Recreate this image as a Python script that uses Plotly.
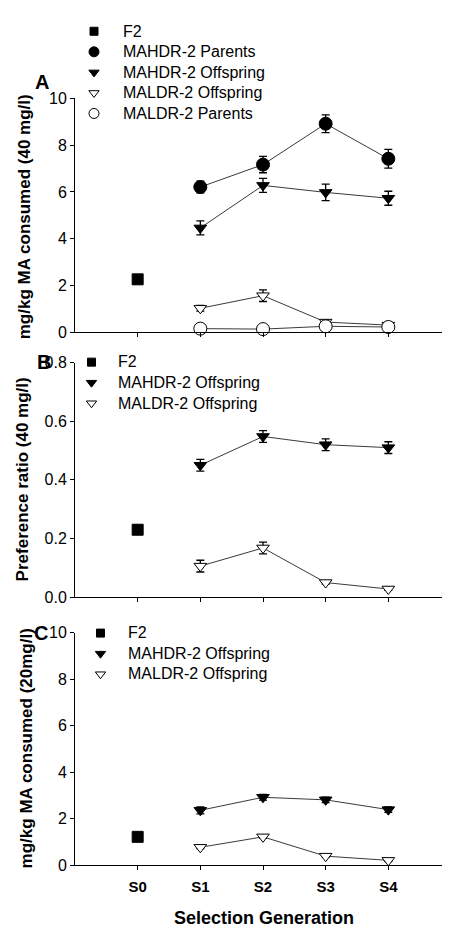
import plotly.graph_objects as go

gens = ["S0", "S1", "S2", "S3", "S4"]
sel = ["S1", "S2", "S3", "S4"]

# Panel A (40 mg/l, mg/kg consumed)
a_f2 = [2.26]
a_hdr_par = [6.21, 7.17, 8.92, 7.42]
a_hdr_par_err = [0.25, 0.35, 0.38, 0.40]
a_hdr_off = [4.46, 6.28, 5.98, 5.73]
a_hdr_off_err = [0.30, 0.30, 0.35, 0.30]
a_ldr_off = [1.02, 1.56, 0.43, 0.30]
a_ldr_off_err = [0.12, 0.25, 0.10, 0.05]
a_ldr_par = [0.15, 0.13, 0.25, 0.22]
a_ldr_par_err = [0.05, 0.05, 0.05, 0.05]

# Panel B (preference ratio)
b_f2 = [0.23]
b_f2_err = [0.015]
b_hdr_off = [0.45, 0.548, 0.52, 0.51]
b_hdr_off_err = [0.02, 0.02, 0.02, 0.02]
b_ldr_off = [0.106, 0.168, 0.05, 0.028]
b_ldr_off_err = [0.02, 0.02, 0.005, 0.005]

# Panel C (20 mg/l)
c_f2 = [1.22]
c_hdr_off = [2.36, 2.92, 2.81, 2.39]
c_hdr_off_err = [0.15, 0.12, 0.12, 0.12]
c_ldr_off = [0.77, 1.22, 0.39, 0.21]
c_ldr_off_err = [0.05, 0.05, 0.05, 0.05]

W, H = 450, 933
FONT = "Arial, Liberation Sans, sans-serif"
LINE = "#3a3a3a"

SYM = {
    "F2": ("square", "black", 11, 8),
    "MAHDR-2 Parents": ("circle", "black", 13, 10),
    "MAHDR-2 Offspring": ("triangle-down", "black", 11, 9),
    "MALDR-2 Offspring": ("triangle-down", "white", 11, 9),
    "MALDR-2 Parents": ("circle", "white", 13, 10),
}

fig = go.Figure()

def eb(vals):
    return dict(type="data", array=vals, visible=True, color="black", thickness=1.3, width=4)

def line(y, xa, ya):
    fig.add_trace(go.Scatter(x=sel, y=y, mode="lines", line=dict(color=LINE, width=1),
                             showlegend=False, xaxis=xa, yaxis=ya, hoverinfo="skip", cliponaxis=False))

def pts(x, y, err, name, xa, ya):
    sym, fill, size, _ = SYM[name]
    fig.add_trace(go.Scatter(x=x, y=y, mode="markers", name=name, showlegend=False,
                             marker=dict(symbol=sym, size=size, color=fill,
                                         line=dict(color="black", width=1)),
                             error_y=eb(err) if err else None,
                             xaxis=xa, yaxis=ya, cliponaxis=False))

def legend_entry(name, xa, ya, leg):
    sym, fill, _, lsize = SYM[name]
    fig.add_trace(go.Scatter(x=[None], y=[None], mode="markers",
                             name='<span style="font-size:16px">' + name + '</span>',
                             marker=dict(symbol=sym, size=lsize, color=fill,
                                         line=dict(color="black", width=1)),
                             xaxis=xa, yaxis=ya, legend=leg, showlegend=True))

# Panel A
for s in [a_hdr_par, a_hdr_off, a_ldr_off, a_ldr_par]:
    line(s, "x", "y")
pts(["S0"], a_f2, None, "F2", "x", "y")
pts(sel, a_hdr_par, a_hdr_par_err, "MAHDR-2 Parents", "x", "y")
pts(sel, a_hdr_off, a_hdr_off_err, "MAHDR-2 Offspring", "x", "y")
pts(sel, a_ldr_off, a_ldr_off_err, "MALDR-2 Offspring", "x", "y")
pts(sel, a_ldr_par, a_ldr_par_err, "MALDR-2 Parents", "x", "y")
for n in ["F2", "MAHDR-2 Parents", "MAHDR-2 Offspring", "MALDR-2 Offspring", "MALDR-2 Parents"]:
    legend_entry(n, "x", "y", "legend")

# Panel B
for s in [b_hdr_off, b_ldr_off]:
    line(s, "x2", "y2")
pts(["S0"], b_f2, b_f2_err, "F2", "x2", "y2")
pts(sel, b_hdr_off, b_hdr_off_err, "MAHDR-2 Offspring", "x2", "y2")
pts(sel, b_ldr_off, b_ldr_off_err, "MALDR-2 Offspring", "x2", "y2")
for n in ["F2", "MAHDR-2 Offspring", "MALDR-2 Offspring"]:
    legend_entry(n, "x2", "y2", "legend2")

# Panel C
for s in [c_hdr_off, c_ldr_off]:
    line(s, "x3", "y3")
pts(["S0"], c_f2, None, "F2", "x3", "y3")
pts(sel, c_hdr_off, c_hdr_off_err, "MAHDR-2 Offspring", "x3", "y3")
pts(sel, c_ldr_off, c_ldr_off_err, "MALDR-2 Offspring", "x3", "y3")
for n in ["F2", "MAHDR-2 Offspring", "MALDR-2 Offspring"]:
    legend_entry(n, "x3", "y3", "legend3")

xdom = [67 / W, 443 / W]
def ydom(top, bot):
    return [1 - bot / H, 1 - top / H]

def xax(anchor, labels):
    return dict(domain=xdom, anchor=anchor, type="category", categoryorder="array",
                categoryarray=gens, range=[-1, 5], showline=True, linecolor="black",
                linewidth=1, ticks="outside", ticklen=4, tickcolor="black", showgrid=False,
                zeroline=False, showticklabels=labels, ticklabelstandoff=4,
                tickfont=dict(family=FONT, size=15, color="black", weight="bold"))

def yax(anchor, dom, rng, vals, text):
    return dict(domain=dom, anchor=anchor, range=rng, tickvals=vals, ticktext=text,
                showline=True, linecolor="black", linewidth=1, ticks="outside", ticklen=4,
                tickcolor="black", showgrid=False, zeroline=False,
                tickfont=dict(family=FONT, size=16, color="black"))

leg_common = dict(bgcolor="rgba(0,0,0,0)", font=dict(family=FONT, size=13.5, color="black"),
                  xanchor="left", yanchor="top", tracegroupgap=0, borderwidth=0)

fig.update_layout(
    width=W, height=H, margin=dict(l=0, r=0, t=0, b=0),
    paper_bgcolor="white", plot_bgcolor="white",
    font=dict(family=FONT, color="black"),
    xaxis=xax("y", False),
    xaxis2=xax("y2", False),
    xaxis3=xax("y3", True),
    yaxis=yax("x", ydom(84, 322), [0, 10], [0, 2, 4, 6, 8, 10], ["0", "2", "4", "6", "8", "10"]),
    yaxis2=yax("x2", ydom(353, 592), [0, 0.8], [0, 0.2, 0.4, 0.6, 0.8], ["0.0", "0.2", "0.4", "0.6", "0.8"]),
    yaxis3=yax("x3", ydom(628, 865), [0, 10], [0, 2, 4, 6, 8, 10], ["0", "2", "4", "6", "8", "10"]),
    legend=dict(leg_common, x=57 / W, y=1.0, itemwidth=48),
    legend2=dict(leg_common, x=57 / W, y=1 - 337 / H, itemwidth=43),
    legend3=dict(leg_common, x=65 / W, y=1 - 613 / H, itemwidth=45),
    showlegend=True,
)

ann = [
    dict(text="A", x=34, y=67, size=20),
    dict(text="B", x=36, y=352, size=20),
    dict(text="C", x=33, y=628, size=20),
]
for a in ann:
    fig.add_annotation(text=a["text"], x=a["x"] / W, y=1 - a["y"] / H, xref="paper", yref="paper",
                       showarrow=False, xanchor="center", yanchor="middle",
                       font=dict(family=FONT, size=a["size"], color="black", weight="bold"))

titles = [
    ("mg/kg MA consumed (40 mg/l)", 16, 205),
    ("Preference ratio (40 mg/l)", 14, 472),
    ("mg/kg MA consumed (20mg/l)", 18, 746),
]
for t, x, y in titles:
    fig.add_annotation(text=t, x=x / W, y=1 - y / H, xref="paper", yref="paper", textangle=-90,
                       showarrow=False, xanchor="center", yanchor="middle",
                       font=dict(family=FONT, size=17, color="black", weight="bold"))

fig.add_annotation(text="Selection Generation", x=256 / W, y=1 - 919 / H, xref="paper", yref="paper",
                   showarrow=False, xanchor="center", yanchor="middle",
                   font=dict(family=FONT, size=18, color="black", weight="bold"))

fig.write_html("out.html")
